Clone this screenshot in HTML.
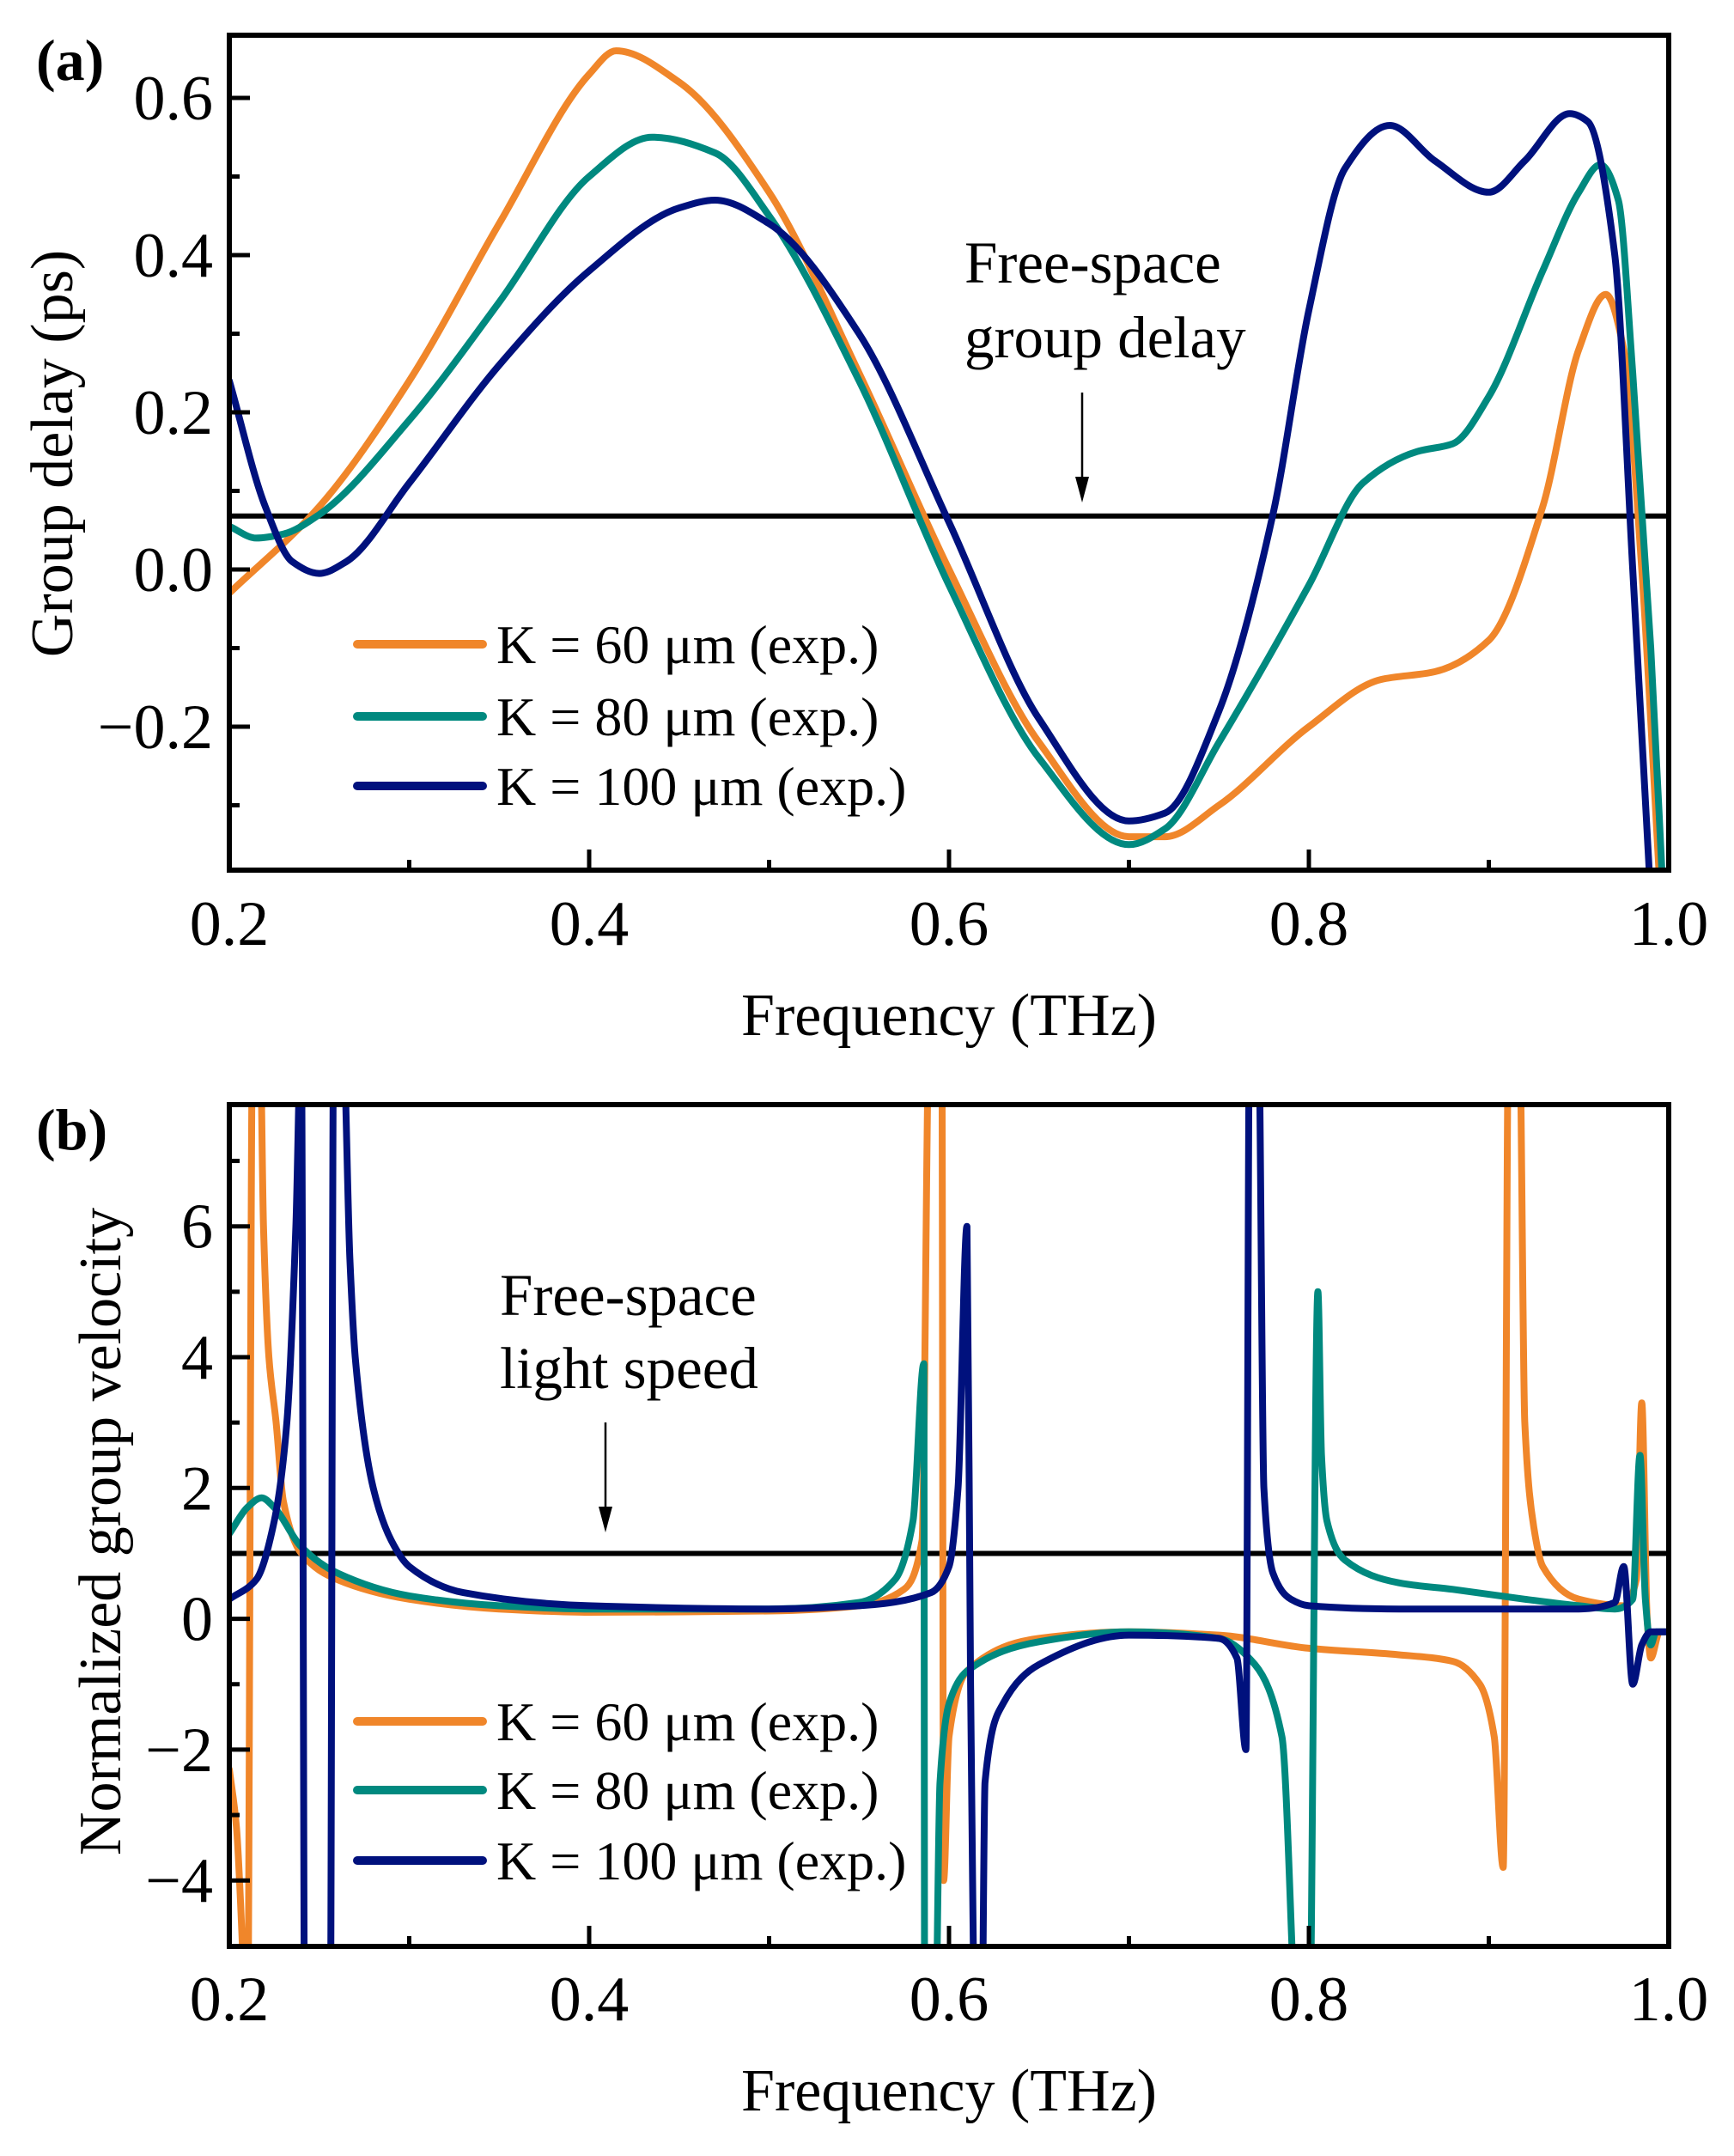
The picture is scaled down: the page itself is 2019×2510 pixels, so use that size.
<!DOCTYPE html>
<html><head><meta charset="utf-8">
<style>
html,body{margin:0;padding:0;background:#fff;}
svg{display:block;}
text{font-family:"Liberation Serif","DejaVu Serif",serif;fill:#000;}
</style></head>
<body>
<svg id="fig" width="2019" height="2510" viewBox="0 0 2019 2510" xmlns="http://www.w3.org/2000/svg">
<defs>
<clipPath id="clipA"><rect x="267" y="41" width="1676" height="972"/></clipPath>
<clipPath id="clipB"><rect x="267" y="1286" width="1676" height="980"/></clipPath>
</defs>
<g id="panelA"></g>
<g id="panelB"></g>
</svg>
<script>
// ---------- Data: panel (a) group delay ----------
const freqA60 = [0.2,0.25,0.3,0.35,0.4,0.415,0.45,0.5,0.55,0.6,0.65,0.7,0.72,0.75,0.8,0.84,0.87,0.9,0.93,0.95,0.965,0.975,0.985,0.995];
const delayA60 = [-0.03,0.08,0.24,0.44,0.63,0.66,0.62,0.48,0.25,0.0,-0.22,-0.34,-0.34,-0.30,-0.20,-0.14,-0.13,-0.09,0.08,0.28,0.35,0.28,0.0,-0.40];
const freqA80 = [0.2,0.215,0.23,0.25,0.3,0.35,0.4,0.435,0.47,0.5,0.55,0.6,0.65,0.7,0.72,0.75,0.8,0.83,0.86,0.88,0.9,0.93,0.95,0.962,0.972,0.98,0.99,0.997];
const delayA80 = [0.055,0.04,0.045,0.07,0.19,0.34,0.50,0.55,0.53,0.45,0.24,-0.02,-0.24,-0.35,-0.33,-0.22,-0.02,0.11,0.15,0.16,0.22,0.38,0.48,0.515,0.47,0.25,-0.1,-0.42];
const freqA100 = [0.2,0.22,0.235,0.25,0.265,0.3,0.35,0.4,0.45,0.47,0.5,0.55,0.6,0.65,0.7,0.72,0.75,0.78,0.8,0.82,0.845,0.87,0.9,0.92,0.945,0.955,0.97,0.98,0.99];
const delayA100 = [0.24,0.08,0.01,-0.005,0.01,0.11,0.26,0.38,0.46,0.47,0.44,0.30,0.06,-0.19,-0.32,-0.31,-0.18,0.07,0.33,0.51,0.565,0.52,0.48,0.52,0.58,0.57,0.40,0.0,-0.42];
const yTicksA = [-0.2,0.0,0.2,0.4,0.6];
const yTickLabelsA = ["\u22120.2","0.0","0.2","0.4","0.6"];
const freeSpaceDelay = 0.068;

// ---------- Data: panel (b) normalized group velocity ----------
const freqB60 = [0.2,0.204,0.208,0.21,0.213,0.217,0.219,0.222,0.226,0.23,0.24,0.26,0.3,0.35,0.4,0.5,0.55,0.575,0.585,0.589,0.592,0.596,0.597,0.6,0.61,0.65,0.7,0.75,0.8,0.85,0.88,0.895,0.903,0.908,0.911,0.917,0.92,0.925,0.93,0.95,0.975,0.982,0.985,0.988,0.99,0.995,1.0];
const velB60 = [-2.3,-3.2,-5.5,-7,9,9,6,4,3,1.8,1.0,0.6,0.3,0.15,0.1,0.12,0.2,0.45,1.2,9,9,9,-4,-1.8,-0.8,-0.3,-0.2,-0.25,-0.45,-0.55,-0.65,-1.0,-1.8,-3.8,9,9,3,1.4,0.8,0.3,0.2,0.6,3.3,0.0,-0.6,-0.2,-0.2];
const freqB80 = [0.2,0.21,0.218,0.225,0.24,0.26,0.3,0.35,0.4,0.5,0.55,0.57,0.58,0.586,0.5865,0.592,0.595,0.6,0.61,0.65,0.7,0.75,0.77,0.785,0.795,0.8,0.805,0.807,0.81,0.82,0.85,0.88,0.92,0.95,0.97,0.98,0.984,0.987,0.99,0.993,1.0];
const velB80 = [1.3,1.7,1.85,1.7,1.1,0.7,0.35,0.2,0.15,0.15,0.25,0.6,1.5,3.9,-7,-7,-2.5,-1.3,-0.8,-0.35,-0.2,-0.3,-0.7,-1.8,-7,-7,5.0,2.5,1.5,0.9,0.55,0.45,0.3,0.2,0.15,0.3,2.5,0.3,-0.4,-0.2,-0.2];
const freqB100 = [0.2,0.215,0.225,0.232,0.237,0.24,0.242,0.256,0.258,0.263,0.267,0.27,0.28,0.29,0.3,0.33,0.4,0.5,0.55,0.59,0.6,0.605,0.61,0.612,0.615,0.618,0.62,0.63,0.65,0.7,0.75,0.76,0.765,0.767,0.772,0.775,0.78,0.79,0.8,0.85,0.9,0.95,0.97,0.975,0.98,0.985,0.99,1.0];
const velB100 = [0.3,0.6,1.5,3,6,9,-7,-7,9,9,5.5,4,2,1.2,0.8,0.4,0.2,0.15,0.2,0.4,0.8,2,6,-1,-7,-7,-2.5,-1.3,-0.7,-0.25,-0.3,-0.6,-2,9,9,2,0.7,0.3,0.2,0.15,0.15,0.15,0.25,0.8,-1.0,-0.4,-0.2,-0.2];
const yTicksB = [-4,-2,0,2,4,6];
const yTickLabelsB = ["\u22124","\u22122","0","2","4","6"];
const freeSpaceSpeed = 1.0;

const xTicks = [0.2,0.4,0.6,0.8,1.0];
const xTickLabels = ["0.2","0.4","0.6","0.8","1.0"];
const xMinor = [0.3,0.5,0.7,0.9];
const legendLabels = ["K = 60 \u03bcm (exp.)","K = 80 \u03bcm (exp.)","K = 100 \u03bcm (exp.)"];
const colors = ["#F0862A","#00897F","#00117D"];

const NS="http://www.w3.org/2000/svg";
const X0=267, X1=1943;
function xs(f){return X0+(f-0.2)/0.8*(X1-X0);}
function ysA(v){return 663-v*915;}
function ysB(v){return 1884.6-v*76.15;}

function mk(parent,tag,attrs){const e=document.createElementNS(NS,tag);for(const k in attrs)e.setAttribute(k,attrs[k]);parent.appendChild(e);return e;}

// monotone cubic (Fritsch-Carlson) in screen space
function monoPath(fx,vy,ys){
  const X=fx.map(xs), Y=vy.map(ys), n=X.length;
  const d=[],m=new Array(n);
  for(let i=0;i<n-1;i++) d.push((Y[i+1]-Y[i])/(X[i+1]-X[i]));
  m[0]=d[0]; m[n-1]=d[n-2];
  for(let i=1;i<n-1;i++){
    if(d[i-1]*d[i]<=0) m[i]=0;
    else{const h0=X[i]-X[i-1],h1=X[i+1]-X[i];const w1=2*h1+h0,w2=h1+2*h0;m[i]=(w1+w2)/(w1/d[i-1]+w2/d[i]);}
  }
  let p="M"+X[0].toFixed(1)+","+Y[0].toFixed(1);
  for(let i=0;i<n-1;i++){
    const h=(X[i+1]-X[i])/3;
    p+=" C"+(X[i]+h).toFixed(1)+","+(Y[i]+m[i]*h).toFixed(1)+" "+(X[i+1]-h).toFixed(1)+","+(Y[i+1]-m[i+1]*h).toFixed(1)+" "+X[i+1].toFixed(1)+","+Y[i+1].toFixed(1);
  }
  return p;
}

function drawPanel(g,cfg){
  const top=cfg.top,bot=cfg.bot;
  const sg=mk(g,"g",{"clip-path":"url(#"+cfg.clip+")"});
  
  
  const fl=mk(sg,"line",{x1:X0,x2:X1,y1:cfg.ys(cfg.free),y2:cfg.ys(cfg.free),stroke:"#000","stroke-width":6});
  
  
  cfg.series.forEach((s,i)=>{
    const pth=mk(sg,"path",{d:monoPath(s[0],s[1],cfg.ys),fill:"none",stroke:colors[i],"stroke-width":8,"stroke-linejoin":"round","stroke-linecap":"round"});
    
    
  });
  const fr=mk(g,"rect",{x:X0,y:top,width:X1-X0,height:bot-top,fill:"none",stroke:"#000","stroke-width":6});
  
  
  xTicks.forEach((t,i)=>{
    const x=xs(t);
    if(i>0&&i<xTicks.length-1){
      const tk=mk(g,"line",{x1:x,x2:x,y1:bot,y2:bot-24,stroke:"#000","stroke-width":5});
      
      
    }
    const tl=mk(g,"text",{x:x,y:cfg.xLabelY,"font-size":74,"text-anchor":"middle"});
    tl.textContent=xTickLabels[i];
    
    
  });
  xMinor.forEach(t=>{
    const tk=mk(g,"line",{x1:xs(t),x2:xs(t),y1:bot,y2:bot-12,stroke:"#000","stroke-width":5});
    
    
  });
  cfg.yTicks.forEach((t,i)=>{
    const y=cfg.ys(t);
    const tk=mk(g,"line",{x1:X0,x2:X0+24,y1:y,y2:y,stroke:"#000","stroke-width":5});
    
    
    const tl=mk(g,"text",{x:248,y:y+25,"font-size":74,"text-anchor":"end"});
    tl.textContent=cfg.yLabels[i];
    
    
  });
  cfg.yMinor.forEach(t=>{
    const y=cfg.ys(t);
    const tk=mk(g,"line",{x1:X0,x2:X0+12,y1:y,y2:y,stroke:"#000","stroke-width":5});
    
    
  });
  const xt=mk(g,"text",{x:(X0+X1)/2,y:cfg.xTitleY,"font-size":70,"text-anchor":"middle"});
  xt.textContent="Frequency (THz)";
  
  
  const yt=mk(g,"text",{x:0,y:0,"font-size":70,"text-anchor":"middle",transform:"translate("+(cfg.yTitleX)+","+cfg.yTitleY+") rotate(-90)"});
  yt.textContent=cfg.yTitle;
  
  
  const pl=mk(g,"text",{x:42,y:top+52,"font-size":68,"font-weight":"bold"});
  pl.textContent=cfg.label;
  
  
  cfg.annot.forEach((a,i)=>{
    const at=mk(g,"text",{x:cfg.annotX,y:cfg.annotY[i],"font-size":69});
    at.textContent=a;
    
    
  });
  const ar=mk(g,"line",{x1:cfg.arrowX,x2:cfg.arrowX,y1:cfg.arrowY[0],y2:cfg.arrowY[1]-16,stroke:"#000","stroke-width":2.5});
  
  
  const ah=mk(g,"polygon",{points:(cfg.arrowX-8)+","+(cfg.arrowY[1]-30)+" "+(cfg.arrowX+8)+","+(cfg.arrowY[1]-30)+" "+cfg.arrowX+","+cfg.arrowY[1],fill:"#000"});
  
  
  cfg.legendY.forEach((y,i)=>{
    const le=mk(g,"g",{});
    
    
    mk(le,"line",{x1:416,x2:562,y1:y,y2:y,stroke:colors[i],"stroke-width":10,"stroke-linecap":"round"});
    const lt=mk(le,"text",{x:578,y:y+22,"font-size":64});
    lt.textContent=legendLabels[i];
  });
}

drawPanel(document.getElementById("panelA"),{
  top:41,bot:1013,clip:"clipA",ys:ysA,free:freeSpaceDelay,
  series:[[freqA60,delayA60],[freqA80,delayA80],[freqA100,delayA100]],
  yTicks:yTicksA,yLabels:yTickLabelsA,yMinor:[-0.3,-0.1,0.1,0.3,0.5],
  xLabelY:1100,xTitleY:1205,yTitle:"Group delay (ps)",yTitleX:84,yTitleY:528,label:"(a)",
  annot:["Free-space","group delay"],annotX:1123,annotY:[329,416],arrowX:1260,arrowY:[457,585],
  legendY:[750,834,915]
});
drawPanel(document.getElementById("panelB"),{
  top:1286,bot:2266,clip:"clipB",ys:ysB,free:freeSpaceSpeed,
  series:[[freqB60,velB60],[freqB80,velB80],[freqB100,velB100]],
  yTicks:yTicksB,yLabels:yTickLabelsB,yMinor:[-3,-1,1,3,5,7],
  xLabelY:2352,xTitleY:2457,yTitle:"Normalized group velocity",yTitleX:140,yTitleY:1783,label:"(b)",
  annot:["Free-space","light speed"],annotX:582,annotY:[1531,1616],arrowX:705,arrowY:[1656,1784],
  legendY:[2004,2084,2166]
});
</script>
</body></html>
